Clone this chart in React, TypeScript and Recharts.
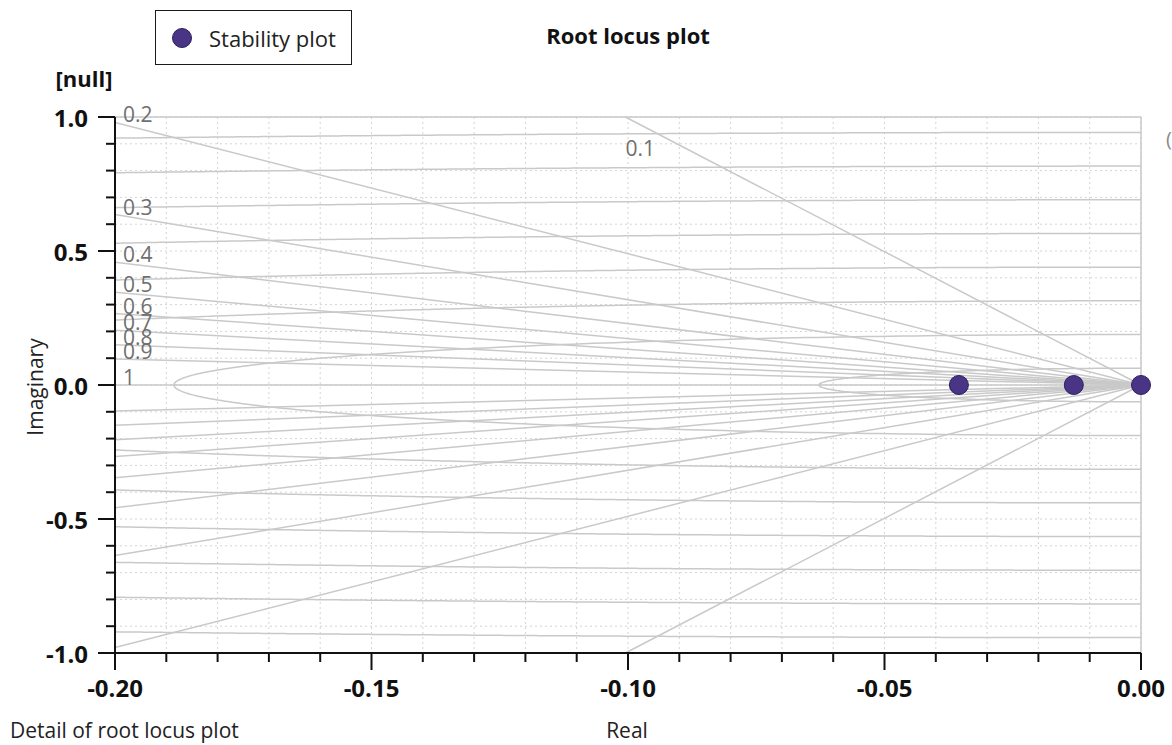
import React from "react";
import { ComposedChart, Line, Scatter, XAxis, YAxis, CartesianGrid, ReferenceLine } from "recharts";

// damping ratio rays and natural frequency arcs (rad/s) of the root locus grid
const dampingRatios = [0.1, 0.2, 0.3, 0.4, 0.5, 0.6, 0.7, 0.8, 0.9, 1];
const naturalFrequencies = [0.0628, 0.1885, 0.3142, 0.4398, 0.5655, 0.6912, 0.8168, 0.9425];

// stability plot poles
const poles = [
  { x: -0.0355, y: 0 },
  { x: -0.0131, y: 0 },
  { x: 0, y: 0 },
];

const xTicks = [
  -0.2, -0.19, -0.18, -0.17, -0.16, -0.15, -0.14, -0.13, -0.12, -0.11, -0.1,
  -0.09, -0.08, -0.07, -0.06, -0.05, -0.04, -0.03, -0.02, -0.01, 0,
];
const yTicks = [
  -1, -0.9, -0.8, -0.7, -0.6, -0.5, -0.4, -0.3, -0.2, -0.1, 0,
  0.1, 0.2, 0.3, 0.4, 0.5, 0.6, 0.7, 0.8, 0.9, 1,
];
const xLabels = [-0.2, -0.15, -0.1, -0.05, 0];
const yLabels = [-1, -0.5, 0, 0.5, 1];

const X_MIN = -0.2;
const Y_MAX = 1;
const GRID = "#c9c9c9";
const FONT = "'Open Sans', 'Noto Sans', sans-serif";

type Pt = { x: number; y: number };

function arc(w: number, from: number, to: number, steps = 240): Pt[] {
  const pts: Pt[] = [];
  for (let i = 0; i <= steps; i++) {
    const t = from + ((to - from) * i) / steps;
    const x = Math.min(0, Math.max(X_MIN, w * Math.cos(t)));
    const y = Math.abs(w * Math.sin(t)) < 1e-12 ? 0 : w * Math.sin(t);
    pts.push({ x, y });
  }
  return pts;
}

const frequencyArcs: Pt[][] = naturalFrequencies.flatMap((w) => {
  if (w <= -X_MIN) return [arc(w, Math.PI / 2, (3 * Math.PI) / 2)];
  const edge = Math.acos(X_MIN / w);
  return [arc(w, Math.PI / 2, edge), arc(w, 2 * Math.PI - edge, (3 * Math.PI) / 2)];
});

// where each damping ray leaves the plot area
const rayEnds = dampingRatios.map((z) => {
  const k = Math.sqrt(1 - z * z) / z;
  if (-X_MIN * k <= Y_MAX) return { x: X_MIN, y: -X_MIN * k, z };
  return { x: -Y_MAX / k, y: Y_MAX, z };
});

const dampingRays: Pt[][] = rayEnds.flatMap((e) =>
  e.y === 0
    ? [[{ x: 0, y: 0 }, { x: e.x, y: 0 }]]
    : [
        [{ x: 0, y: 0 }, { x: e.x, y: e.y }],
        [{ x: 0, y: 0 }, { x: e.x, y: -e.y }],
      ]
);

const rayLabels = rayEnds.map((e) => ({ x: e.x, y: e.y, text: String(e.z) }));

const isMajor = (v: number, list: number[]) => list.some((m) => Math.abs(m - v) < 1e-9);

const XTick = (props: any) => {
  const { x, y, payload } = props;
  const major = isMajor(payload.value, xLabels);
  return (
    <g>
      <line x1={x} x2={x} y1={y} y2={y + (major ? 17 : 9)} stroke="#111" strokeWidth={2} />
      {major && (
        <text x={x} y={y + 44} textAnchor="middle" fontFamily={FONT} fontWeight={700} fontSize={24} fill="#111">
          {payload.value.toFixed(2)}
        </text>
      )}
    </g>
  );
};

const YTick = (props: any) => {
  const { x, y, payload } = props;
  const major = isMajor(payload.value, yLabels);
  return (
    <g>
      <line x1={x - (major ? 17 : 9)} x2={x} y1={y} y2={y} stroke="#111" strokeWidth={2} />
      {major && (
        <text x={x - 27} y={y} textAnchor="end" dominantBaseline="central" fontFamily={FONT} fontWeight={700} fontSize={24} fill="#111">
          {payload.value.toFixed(1)}
        </text>
      )}
    </g>
  );
};

const RayLabel = (props: any) => {
  const { cx, cy, payload } = props;
  const top = payload.text === "0.1";
  return (
    <text
      x={cx + (top ? 0 : 8)}
      y={cy + (top ? 31 : -8)}
      dominantBaseline="central"
      fontFamily={FONT}
      fontSize={21}
      fill="#6f6f6f"
    >
      {payload.text}
    </text>
  );
};

const PoleDot = (props: any) => (
  <circle cx={props.cx} cy={props.cy} r={9.5} fill="#4a3486" stroke="#2c1f5c" strokeWidth={1} />
);

export default function App() {
  return (
    <div style={{ position: "absolute", left: 0, top: 0, width: 1172, height: 745, background: "#fff", fontFamily: FONT }}>
      <ComposedChart width={1172} height={745} margin={{ top: 117, right: 31, left: 0, bottom: 0 }}>
        <CartesianGrid stroke="#d4d4d4" strokeDasharray="2 3" />
        <XAxis
          type="number"
          dataKey="x"
          domain={[-0.2, 0]}
          ticks={xTicks}
          interval={0}
          height={92}
          tickSize={0}
          tickMargin={0}
          tickLine={false}
          tick={<XTick />}
          axisLine={{ stroke: "#111", strokeWidth: 2 }}
        />
        <YAxis
          type="number"
          dataKey="y"
          domain={[-1, 1]}
          ticks={yTicks}
          interval={0}
          width={115}
          tickSize={0}
          tickMargin={0}
          tickLine={false}
          tick={<YTick />}
          axisLine={{ stroke: "#111", strokeWidth: 2 }}
        />
        <ReferenceLine y={1} stroke={GRID} strokeWidth={1.5} />
        <ReferenceLine x={0} stroke={GRID} strokeWidth={1.5} />
        {frequencyArcs.map((d, i) => (
          <Line key={"w" + i} data={d} dataKey="y" stroke={GRID} strokeWidth={1.5} dot={false} activeDot={false} isAnimationActive={false} />
        ))}
        {dampingRays.map((d, i) => (
          <Line key={"z" + i} data={d} dataKey="y" stroke={GRID} strokeWidth={1.5} dot={false} activeDot={false} isAnimationActive={false} />
        ))}
        <Scatter data={rayLabels} shape={<RayLabel />} isAnimationActive={false} />
        <Scatter data={poles} shape={<PoleDot />} isAnimationActive={false} />
      </ComposedChart>

      <svg width={1172} height={745} style={{ position: "absolute", left: 0, top: 0, pointerEvents: "none" }}>
        <text x={628} y={35} textAnchor="middle" dominantBaseline="central" fontFamily={FONT} fontWeight={700} fontSize={22} fill="#111">
          Root locus plot
        </text>
        <text x={84} y={78} textAnchor="middle" dominantBaseline="central" fontFamily={FONT} fontWeight={700} fontSize={22} fill="#111">
          [null]
        </text>
        <text x={35} y={387} textAnchor="middle" dominantBaseline="central" transform="rotate(-90 35 387)" fontFamily={FONT} fontSize={21} fill="#222">
          Imaginary
        </text>
        <text x={627} y={730} textAnchor="middle" dominantBaseline="central" fontFamily={FONT} fontSize={21} fill="#222">
          Real
        </text>
        <text x={10} y={730} dominantBaseline="central" fontFamily={FONT} fontSize={21} fill="#222">
          Detail of root locus plot
        </text>
        <text x={1166} y={138} dominantBaseline="central" fontFamily={FONT} fontSize={20} fill="#8a8a8a">
          (
        </text>
      </svg>

      <div
        style={{
          position: "absolute",
          left: 155,
          top: 10,
          width: 195,
          height: 53,
          border: "1.5px solid #1a1a1a",
          display: "flex",
          alignItems: "center",
          boxSizing: "content-box",
        }}
      >
        <span
          style={{
            display: "inline-block",
            width: 20,
            height: 20,
            borderRadius: "50%",
            background: "#4a3486",
            border: "1px solid #2c1f5c",
            marginLeft: 16,
            marginRight: 17,
            boxSizing: "border-box",
          }}
        />
        <span style={{ fontSize: 22, color: "#222", whiteSpace: "nowrap" }}>Stability plot</span>
      </div>
    </div>
  );
}
